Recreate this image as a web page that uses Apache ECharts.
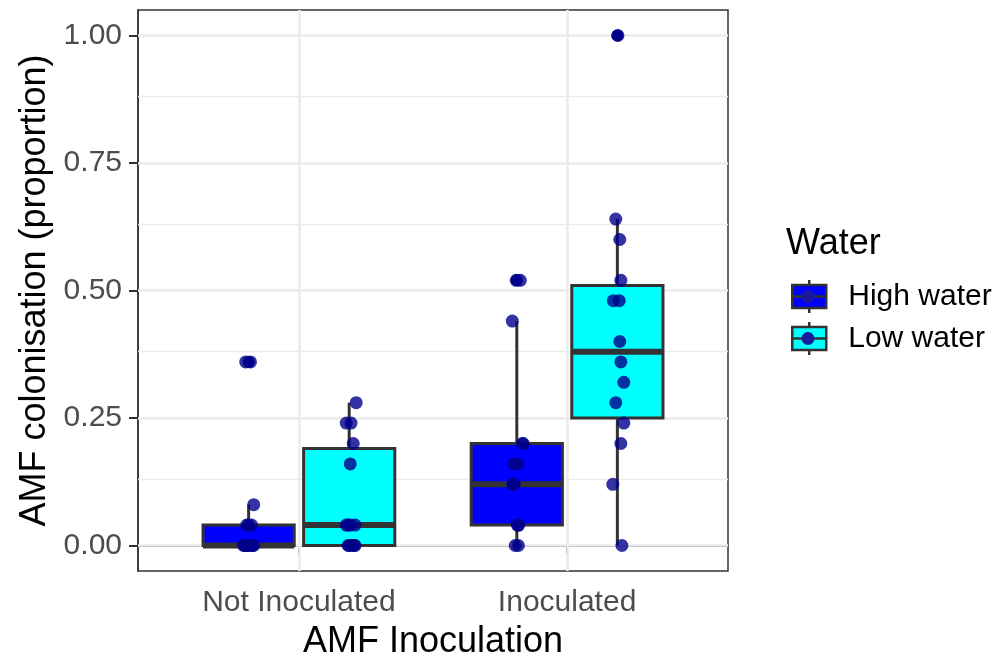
<!DOCTYPE html>
<html lang="en">
<head>
<meta charset="UTF-8">
<title>AMF colonisation</title>
<script src="https://cdn.jsdelivr.net/npm/echarts@6/dist/echarts.min.js"></script>
<style>html,body{margin:0;padding:0;background:#fff}</style>
</head>
<body>
<div id="chart" style="width:1002px;height:661px;"></div>
<script>
const groups = ['Not Inoculated', 'Inoculated'];
const waterLevels = ['High water', 'Low water'];
const yTicks = [0, 0.25, 0.5, 0.75, 1];
const yMinor = [0.125, 0.375, 0.625, 0.875];

// box summaries per group: [lower whisker, q1, median, q3, upper whisker]
const boxHigh = [[0, 0, 0, 0.04, 0.08], [0, 0.04, 0.12, 0.20, 0.44]];
const boxLow = [[0, 0, 0.04, 0.19, 0.28], [0, 0.25, 0.38, 0.51, 0.64]];
const outlierHigh = [[0.36], [0.52]];
const outlierLow = [[], [1.00]];

// observations (jittered in the plot)
const pointsHigh = [
    [0.36, 0.36, 0.08, 0.04, 0.04, 0.04, 0, 0, 0, 0, 0, 0, 0, 0],
    [0.52, 0.52, 0.44, 0.20, 0.20, 0.16, 0.16, 0.12, 0.12, 0.12, 0.04, 0.04, 0.04, 0, 0]
];
const pointsLow = [
    [0.28, 0.24, 0.24, 0.20, 0.16, 0.04, 0.04, 0.04, 0.04, 0, 0, 0, 0, 0],
    [1.00, 0.64, 0.60, 0.52, 0.48, 0.48, 0.40, 0.36, 0.32, 0.28, 0.24, 0.20, 0.12, 0]
];
const jitterHigh = [
    [-0.011, 0.007, 0.019, 0.000, 0.011, -0.007, -0.019, -0.004, 0.011, 0.019, -0.011, 0.002, 0.015, -0.015],
    [-0.002, 0.013, -0.017, 0.024, 0.021, -0.013, 0.006, -0.013, -0.009, -0.015, 0.006, 0.007, 0.002, -0.006, 0.006]
];
const jitterLow = [
    [0.026, -0.011, 0.007, 0.015, 0.004, -0.011, 0.004, 0.022, -0.004, -0.004, 0.011, 0.022, 0.000, 0.019],
    [0.002, -0.006, 0.009, 0.013, -0.015, 0.007, 0.009, 0.013, 0.024, -0.006, 0.024, 0.013, -0.017, 0.017]
];

const FONT = "'Liberation Sans', Arial, sans-serif";
const DODGE = 0.1875;
const BOX_W = 0.34;
const EDGE = '#333333';
const DOT = 'rgba(0,0,139,0.8)';

let chart = echarts.init(document.getElementById('chart'));

function boxSeries(name, color, boxes, side) {
    return {
        name: name,
        type: 'custom',
        z: 3,
        itemStyle: {color: color},
        encode: {x: 0, y: [1, 2, 3, 4, 5]},
        data: boxes.map((b, i) => [i + 1 + side * DODGE].concat(b)),
        renderItem: function (params, api) {
            const x = api.value(0);
            const lo = api.coord([x, api.value(1)]);
            const q1 = api.coord([x + BOX_W / 2, api.value(2)]);
            const m1 = api.coord([x - BOX_W / 2, api.value(3)]);
            const m2 = api.coord([x + BOX_W / 2, api.value(3)]);
            const q3 = api.coord([x - BOX_W / 2, api.value(4)]);
            const hi = api.coord([x, api.value(5)]);
            return {
                type: 'group',
                children: [
                    {type: 'line', shape: {x1: hi[0], y1: hi[1], x2: lo[0], y2: lo[1]},
                        style: {stroke: EDGE, lineWidth: 3}},
                    {type: 'rect', shape: {x: q3[0], y: q3[1], width: q1[0] - q3[0], height: q1[1] - q3[1]},
                        style: {fill: api.visual('color'), stroke: EDGE, lineWidth: 3}},
                    {type: 'line', shape: {x1: m1[0], y1: m1[1], x2: m2[0], y2: m2[1]},
                        style: {stroke: EDGE, lineWidth: 6}}
                ]
            };
        }
    };
}

function outlierSeries(outliers, side) {
    const data = [];
    outliers.forEach((vals, i) => vals.forEach(v => data.push([i + 1 + side * DODGE, v])));
    return {type: 'scatter', z: 4, symbolSize: 12, itemStyle: {color: '#00008B', opacity: 1}, data: data, silent: true};
}

function pointSeries(points, jitter, side) {
    const data = [];
    points.forEach((vals, i) => vals.forEach((v, k) => data.push([i + 1 + side * DODGE + jitter[i][k], v])));
    return {type: 'scatter', z: 5, symbolSize: 13, itemStyle: {color: DOT, opacity: 1}, data: data, silent: true};
}

const gridLines = [];
yTicks.forEach(v => gridLines.push({yAxis: v, lineStyle: {width: 2.6}}));
yMinor.forEach(v => gridLines.push({yAxis: v, lineStyle: {width: 1.3}}));
groups.forEach((g, i) => gridLines.push({xAxis: i + 1, lineStyle: {width: 2.6}}));

const legendIcon = 'path://M17,0L17,5M0,5L34,5L34,28L0,28ZM0,16.5L34,16.5M17,28L17,33';

chart.setOption({
    animation: false,
    backgroundColor: '#ffffff',
    title: {
        text: 'Water',
        left: 781,
        top: 221,
        textStyle: {fontFamily: FONT, fontSize: 36, fontWeight: 'normal', color: '#000'}
    },
    legend: [{
        orient: 'vertical',
        left: 786,
        top: 273,
        itemWidth: 34,
        itemHeight: 33,
        itemGap: 5,
        icon: legendIcon,
        itemStyle: {borderColor: EDGE, borderWidth: 2.5},
        textStyle: {fontFamily: FONT, fontSize: 30, color: '#000', lineHeight: 33, padding: [4, 0, 0, 17]},
        data: [
            {name: waterLevels[0], itemStyle: {color: '#0000FF'}},
            {name: waterLevels[1], itemStyle: {color: '#00FFFF'}}
        ]
    }, {
        orient: 'vertical',
        left: 796.5,
        top: 273,
        itemWidth: 13,
        itemHeight: 13,
        itemGap: 5,
        icon: 'circle',
        itemStyle: {color: '#1a1a9a', borderWidth: 0},
        textStyle: {fontFamily: FONT, fontSize: 30, color: 'rgba(0,0,0,0)', lineHeight: 33, padding: [4, 0, 0, 17]},
        data: waterLevels
    }],
    grid: {
        left: 138,
        right: 274,
        top: 10,
        bottom: 90,
        outerBoundsMode: 'none',
        containLabel: false,
        show: true,
        borderColor: EDGE,
        borderWidth: 1.5,
        backgroundColor: '#fff'
    },
    xAxis: {
        type: 'value',
        min: 0.4,
        max: 2.6,
        name: 'AMF Inoculation',
        nameLocation: 'middle',
        nameGap: 53,
        nameTextStyle: {fontFamily: FONT, fontSize: 36, color: '#000'},
        axisLine: {show: true, lineStyle: {color: EDGE, width: 1.5}},
        axisTick: {show: true, length: 9, customValues: [1, 2], lineStyle: {color: EDGE, width: 2}},
        axisLabel: {
            customValues: [1, 2],
            margin: 17,
            fontFamily: FONT,
            fontSize: 30,
            color: '#4D4D4D',
            formatter: v => groups[Math.round(v) - 1] || ''
        },
        splitLine: {show: false}
    },
    yAxis: {
        type: 'value',
        min: -0.05,
        max: 1.05,
        name: 'AMF colonisation (proportion)',
        nameLocation: 'middle',
        nameGap: 82,
        nameTextStyle: {fontFamily: FONT, fontSize: 36, color: '#000'},
        axisLine: {show: true, lineStyle: {color: EDGE, width: 1.5}},
        axisTick: {show: true, length: 9, customValues: yTicks, lineStyle: {color: EDGE, width: 2}},
        axisLabel: {
            customValues: yTicks,
            margin: 16,
            fontFamily: FONT,
            fontSize: 30,
            color: '#4D4D4D',
            formatter: v => v.toFixed(2)
        },
        splitLine: {show: false}
    },
    series: [
        {
            type: 'scatter',
            data: [],
            silent: true,
            markLine: {
                silent: true,
                z: 1,
                symbol: ['none', 'none'],
                label: {show: false},
                lineStyle: {color: '#EBEBEB', type: 'solid'},
                data: gridLines
            }
        },
        boxSeries(waterLevels[0], '#0000FF', boxHigh, -1),
        boxSeries(waterLevels[1], '#00FFFF', boxLow, 1),
        outlierSeries(outlierHigh, -1),
        outlierSeries(outlierLow, 1),
        pointSeries(pointsHigh, jitterHigh, -1),
        pointSeries(pointsLow, jitterLow, 1)
    ]
});
</script>
</body>
</html>
